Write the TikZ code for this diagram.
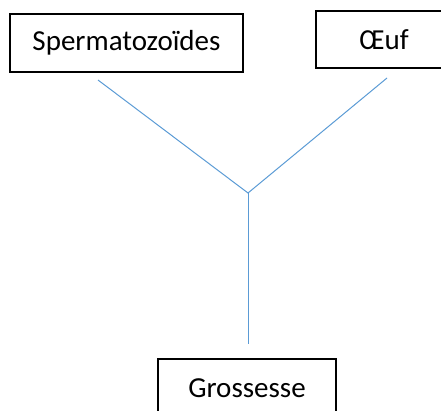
\documentclass[tikz,border=0pt]{standalone}
\usepackage{fontspec}
\setmainfont{Carlito}
\definecolor{lineblue}{RGB}{91,155,213}
\begin{document}
\begin{tikzpicture}[x=1pt,y=-1pt,
  boxnode/.style={draw=black,line width=1.4pt,inner sep=0pt,font=\fontsize{29}{34}\selectfont},
  link/.style={draw=lineblue,line width=1pt}]
\useasboundingbox (0,0) rectangle (441,410);
\node[boxnode,minimum width=233pt,minimum height=58pt] (sperm) at (126.5,43) {Spermatozoïdes};
\node[boxnode,minimum width=136pt,minimum height=57pt] (oeuf) at (384,39.5) {Œuf};
\node[boxnode,minimum width=178pt,minimum height=58pt] (gross) at (247,388) {Grossesse};
\coordinate (a) at (98,80);
\coordinate (b) at (387,78);
\coordinate (j) at (248,193);
\coordinate (c) at (248,344);
\draw[link] (a) -- (j) -- (b);
\draw[link] (j) -- (c);
\end{tikzpicture}
\end{document}
